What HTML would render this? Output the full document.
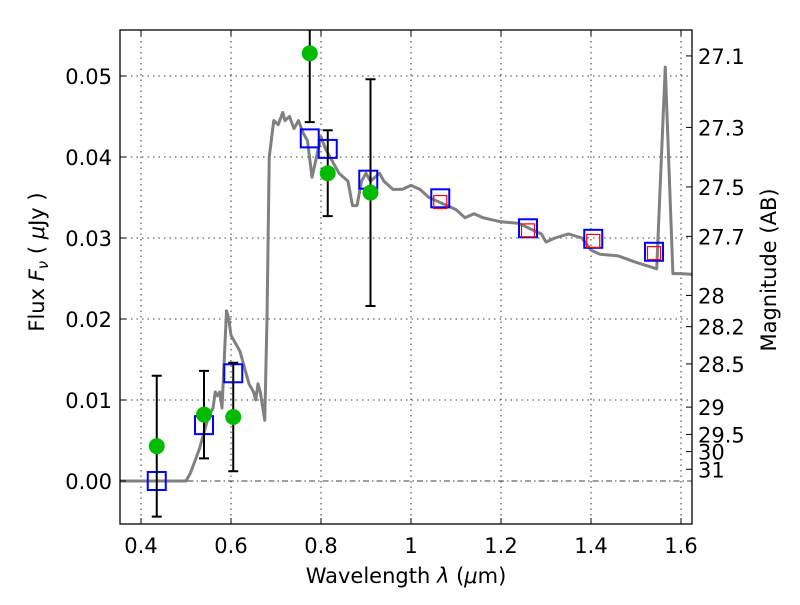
<!DOCTYPE html>
<html><head><meta charset="utf-8"><style>
body{margin:0;background:#fff;}
svg text{font-family:"DejaVu Sans","Liberation Sans",sans-serif;}
</style></head><body>
<svg id="c" width="800" height="600" xmlns="http://www.w3.org/2000/svg"></svg>
<script>
const specX=[0.353,0.5,0.51,0.53,0.55,0.56,0.565,0.57,0.575,0.58,0.59,0.595,0.6,0.61,0.62,0.63,0.64,0.65,0.655,0.66,0.665,0.675,0.68,0.685,0.695,0.705,0.715,0.72,0.73,0.74,0.75,0.76,0.77,0.78,0.79,0.8,0.81,0.82,0.84,0.86,0.87,0.88,0.89,0.9,0.91,0.93,0.94,0.96,0.98,1.0,1.02,1.04,1.06,1.08,1.1,1.12,1.14,1.16,1.2,1.24,1.27,1.29,1.3,1.32,1.35,1.38,1.4,1.42,1.46,1.5,1.546,1.565,1.582,1.6,1.625];
const specY=[0,0,0.001,0.004,0.008,0.009,0.011,0.0105,0.011,0.009,0.021,0.020,0.018,0.017,0.016,0.014,0.012,0.011,0.010,0.012,0.011,0.0075,0.020,0.040,0.0445,0.0440,0.0455,0.0445,0.045,0.0435,0.0445,0.043,0.042,0.0375,0.040,0.0425,0.041,0.040,0.038,0.037,0.034,0.034,0.037,0.038,0.037,0.038,0.037,0.036,0.036,0.0365,0.036,0.035,0.0345,0.034,0.0335,0.0325,0.033,0.0325,0.032,0.0318,0.031,0.0305,0.0295,0.030,0.0305,0.030,0.0285,0.028,0.0278,0.027,0.0262,0.0511,0.0256,0.0256,0.0255];
const obsX=[0.435,0.54,0.605,0.775,0.815,0.91];
const obsY=[0.0043,0.0082,0.0079,0.0528,0.0380,0.0356];
const obsErr=[0.0087,0.0054,0.0067,0.0085,0.0053,0.014];
const modX=[0.435,0.54,0.605,0.775,0.815,0.905,1.065,1.26,1.405,1.54];
const modY=[0,0.0069,0.0133,0.0423,0.0410,0.0372,0.0349,0.0312,0.0299,0.0283];
const redX=[1.065,1.26,1.405,1.54];
const redY=[0.0345,0.0310,0.0297,0.0282];
const xTicks=[0.4,0.6,0.8,1.0,1.2,1.4,1.6];
const xTickLabels=["0.4","0.6","0.8","1","1.2","1.4","1.6"];
const yTicks=[0,0.01,0.02,0.03,0.04,0.05];
const yTickLabels=["0.00","0.01","0.02","0.03","0.04","0.05"];
const magTicks=[27.1,27.3,27.5,27.7,28,28.2,28.5,29,29.5,30,31];

const L=120,R=692,T=30,B=524;
const X=v=>141+(v-0.4)*450;
const Y=v=>481-v*8100;
const svg=document.getElementById('c');
const NS="http://www.w3.org/2000/svg";
function mk(tag,at,parent){const e=document.createElementNS(NS,tag);for(const k in at)e.setAttribute(k,at[k]);(parent||svg).appendChild(e);return e;}
const clip=mk('clipPath',{id:'pc'});mk('rect',{x:L,y:T,width:R-L,height:B-T},clip);
const g=mk('g',{'clip-path':'url(#pc)'});


xTicks.forEach(v=>{const l=mk('line',{x1:X(v),x2:X(v),y1:T,y2:B,stroke:'#000','stroke-width':0.8,'stroke-dasharray':'1.5,4'},g);

});
yTicks.forEach(v=>{const l=mk('line',{x1:L,x2:R,y1:Y(v),y2:Y(v),stroke:'#000','stroke-width':0.8,'stroke-dasharray':v===0?'6,3,1.5,3':'1.5,4'},g);

});
const sp=mk('polyline',{points:specX.map((x,i)=>X(x)+','+Y(specY[i])).join(' '),fill:'none',stroke:'#808080','stroke-width':3,'stroke-linejoin':'round'},g);


modX.forEach((x,i)=>{const r=mk('rect',{x:X(x)-9,y:Y(modY[i])-9,width:18,height:18,fill:'none',stroke:'#0000ff','stroke-width':2},g);

});
redX.forEach((x,i)=>{const r=mk('rect',{x:X(x)-6.5,y:Y(redY[i])-6,width:13,height:13,fill:'none',stroke:'#ff0000','stroke-width':1.2},g);

});
obsX.forEach((x,i)=>{const gx=X(x),y1=Y(obsY[i]+obsErr[i]),y2=Y(obsY[i]-obsErr[i]);
const e=mk('path',{d:`M${gx},${y1}V${y2}M${gx-5},${y1}H${gx+5}M${gx-5},${y2}H${gx+5}`,stroke:'#000','stroke-width':2,fill:'none'},g);

});
obsX.forEach((x,i)=>{const c=mk('circle',{cx:X(x),cy:Y(obsY[i]),r:8,fill:'#00bb00'},g);

});
const fr=mk('rect',{x:L,y:T,width:R-L,height:B-T,fill:'none',stroke:'#000','stroke-width':1.3});


xTicks.forEach((v,i)=>{mk('path',{d:`M${X(v)},${B}v-6M${X(v)},${T}v6`,stroke:'#000','stroke-width':1});
const t=mk('text',{x:X(v),y:B+29,'font-size':21,'text-anchor':'middle'});t.textContent=xTickLabels[i];

});
yTicks.forEach((v,i)=>{mk('path',{d:`M${L},${Y(v)}h6`,stroke:'#000','stroke-width':1});
const t=mk('text',{x:L-8,y:Y(v)+8,'font-size':21,'text-anchor':'end'});t.textContent=yTickLabels[i];

});
magTicks.forEach(m=>{const f=Math.pow(10,(23.9-m)/2.5);const y=Y(f);
mk('path',{d:`M${R},${y}h-6`,stroke:'#000','stroke-width':1});
const t=mk('text',{x:R+6,y:y+8,'font-size':21});t.textContent=String(m);

});
</script>
<svg width="800" height="600" style="position:absolute;left:0;top:0" xmlns="http://www.w3.org/2000/svg">
<text x="406" y="583" font-size="21" text-anchor="middle" font-family="DejaVu Sans, sans-serif">Wavelength  <tspan font-style="italic">λ</tspan> (<tspan font-style="italic">μ</tspan>m)</text>
<text transform="translate(44,262) rotate(-90)" font-size="21" text-anchor="middle" font-family="DejaVu Sans, sans-serif">Flux  <tspan font-style="italic">F<tspan font-size="15" dy="4">ν</tspan></tspan><tspan dy="-4">  ( </tspan><tspan font-style="italic">μ</tspan>Jy )</text>
<text transform="translate(776,270) rotate(-90)" font-size="21" text-anchor="middle" font-family="DejaVu Sans, sans-serif">Magnitude (AB)</text>
</svg>
</body></html>
